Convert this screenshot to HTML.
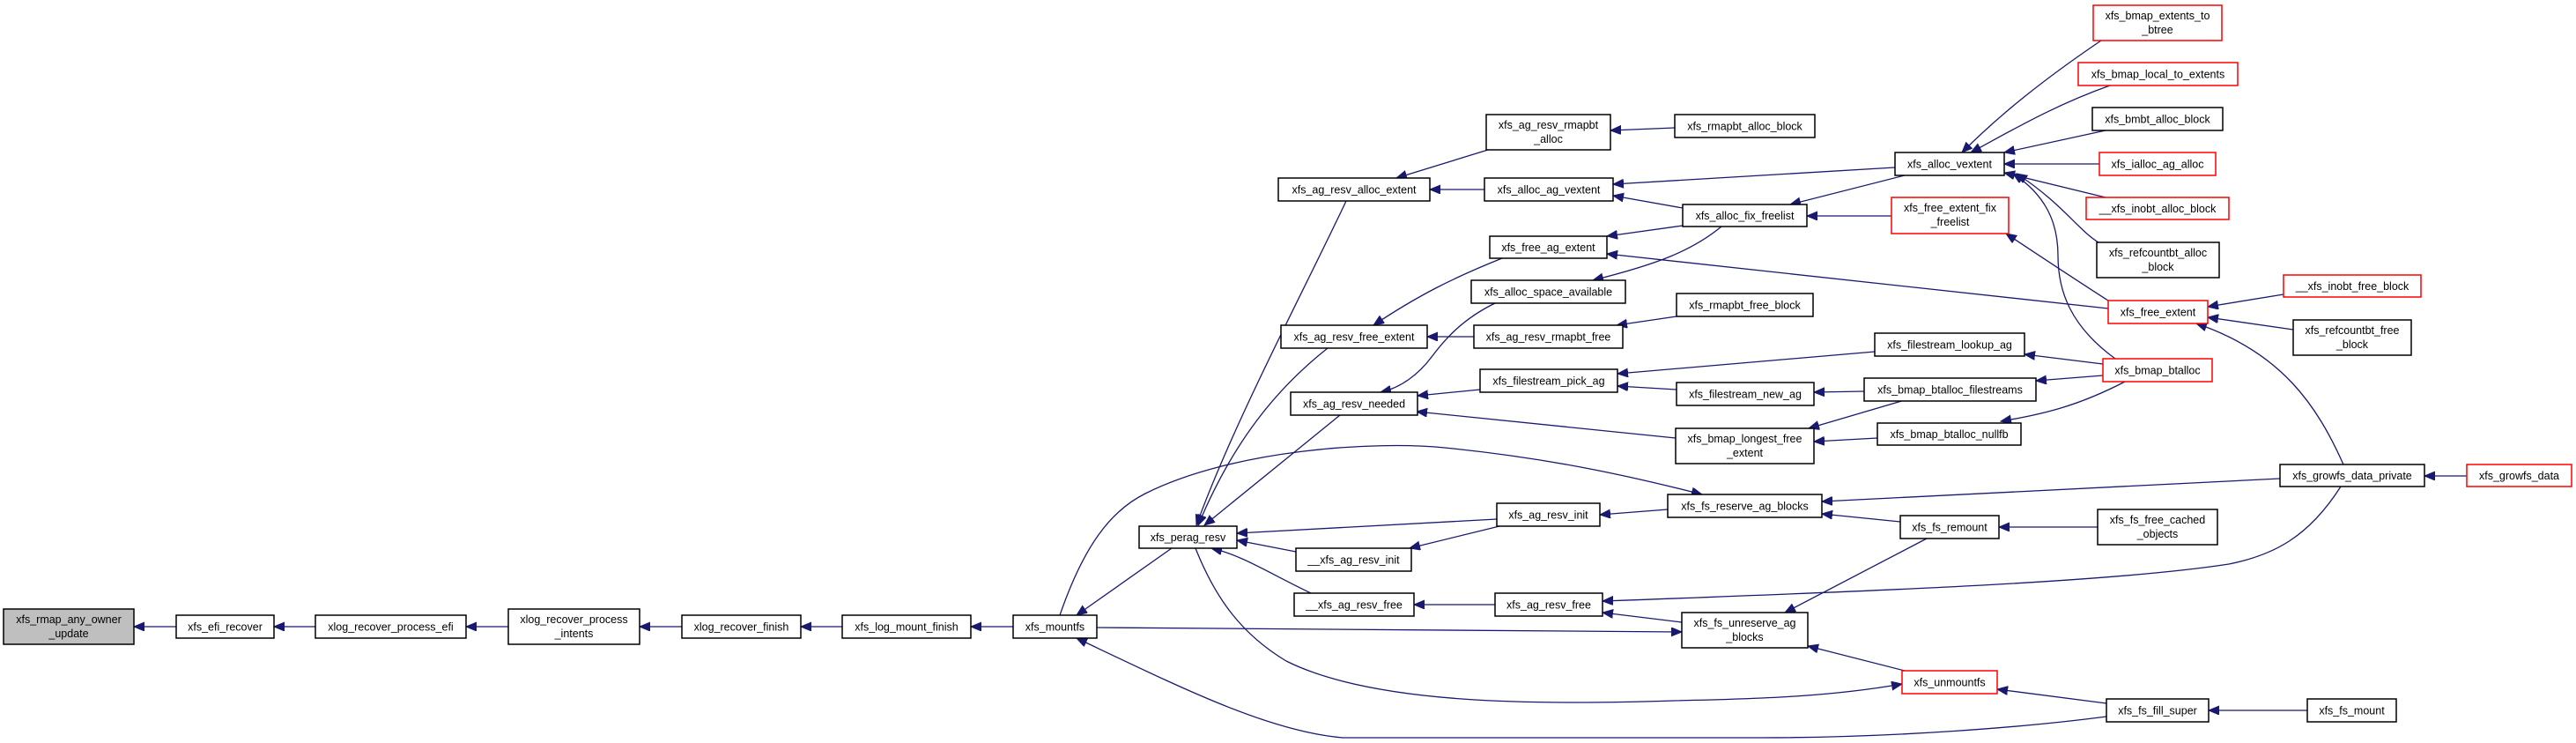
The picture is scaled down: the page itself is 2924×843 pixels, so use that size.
<!DOCTYPE html>
<html><head><meta charset="utf-8"><style>
html,body{margin:0;padding:0;background:#fff;}
svg{display:block;}
text{font-family:"Liberation Sans",sans-serif;font-size:12.5px;fill:#000;text-anchor:middle;}
rect{fill:#fff;stroke:#000;stroke-width:1.5;}
rect.r{stroke:#ff0000;}
rect.g{fill:#bfbfbf;}
path.e{fill:none;stroke:#191970;stroke-width:1.3;marker-end:url(#a);}
</style></head><body>
<svg width="2924" height="843" viewBox="0 0 2924 843" xmlns="http://www.w3.org/2000/svg">
<defs><marker id="a" markerUnits="userSpaceOnUse" markerWidth="13" markerHeight="11" refX="12" refY="5" orient="auto"><path d="M0,0 L12,5 L0,10 z" fill="#191970" stroke="#191970"/></marker></defs>
<!-- edges -->
<path class="e" d="M200,711 L152,711"/>
<path class="e" d="M358,711 L311,711"/>
<path class="e" d="M577,711 L529,711"/>
<path class="e" d="M774,711 L726,711"/>
<path class="e" d="M956,711 L909,711"/>
<path class="e" d="M1150,711 L1102,711"/>
<path class="e" d="M1330,622 L1222,698"/>
<path class="e" d="M1245,712 L1909,717"/>
<path class="e" d="M1203,698 C1230,620 1260,580 1300,560 C1400,510 1560,500 1640,508 C1760,520 1850,540 1932,561"/>
<path class="e" d="M2391,813 C2300,825 2150,837 2000,837 L1524,837 C1440,830 1340,780 1222,724"/>
<path class="e" d="M1357,622 C1380,680 1410,720 1460,750 C1560,800 1750,800 1900,795 C2000,793 2080,790 2159,776"/>
<path class="e" d="M1699,589 L1404,605"/>
<path class="e" d="M1471,626 L1404,613"/>
<path class="e" d="M1702,597 L1600,622"/>
<path class="e" d="M1488,673 C1440,650 1410,630 1375,622"/>
<path class="e" d="M1697,686 L1605,686"/>
<path class="e" d="M1893,578 L1816,584"/>
<path class="e" d="M1909,706 L1819,695"/>
<path class="e" d="M2657,552 C2620,610 2580,630 2530,640 C2400,660 2150,670 1819,682"/>
<path class="e" d="M2187,611 L2026,695"/>
<path class="e" d="M2162,761 L2052,733"/>
<path class="e" d="M2391,798 L2267,782"/>
<path class="e" d="M2619,806 L2507,806"/>
<path class="e" d="M2157,592 L2068,583"/>
<path class="e" d="M2588,543 L2068,569"/>
<path class="e" d="M2381,598 L2269,598"/>
<path class="e" d="M2800,540 L2752,540"/>
<path class="e" d="M2660,527 C2630,460 2590,400 2493,367"/>
<path class="e" d="M2592,334 L2506,348"/>
<path class="e" d="M2603,374 L2506,360"/>
<path class="e" d="M2116,444 L2059,445"/>
<path class="e" d="M2162,454 L2053,486"/>
<path class="e" d="M2131,497 L2059,501"/>
<path class="e" d="M2412,433 C2360,460 2320,470 2271,478"/>
<path class="e" d="M2387,426 L2311,432"/>
<path class="e" d="M2387,413 L2298,402"/>
<path class="e" d="M2128,399 L1836,424"/>
<path class="e" d="M1903,442 L1836,438"/>
<path class="e" d="M1680,442 L1609,449"/>
<path class="e" d="M1902,497 L1608,467"/>
<path class="e" d="M1521,471 L1367,596"/>
<path class="e" d="M1528,228 C1480,330 1400,480 1358,596"/>
<path class="e" d="M1507,395 C1450,440 1400,500 1360,596"/>
<path class="e" d="M1689,170 L1585,202"/>
<path class="e" d="M1685,215 L1623,215"/>
<path class="e" d="M1901,145 L1828,148"/>
<path class="e" d="M2151,190 L1831,209"/>
<path class="e" d="M1910,236 L1831,222"/>
<path class="e" d="M2162,199 L2032,232"/>
<path class="e" d="M2147,245 L2051,245"/>
<path class="e" d="M1910,256 L1824,268"/>
<path class="e" d="M1954,257 C1920,285 1880,300 1808,318"/>
<path class="e" d="M2393,350 L1824,288"/>
<path class="e" d="M1705,293 C1650,315 1610,335 1559,369"/>
<path class="e" d="M1697,344 C1660,362 1640,385 1625,405 C1610,425 1590,440 1567,445"/>
<path class="e" d="M1673,382 L1620,382"/>
<path class="e" d="M1903,359 L1835,369"/>
<path class="e" d="M2385,46 C2320,90 2270,130 2227,173"/>
<path class="e" d="M2395,97 C2330,120 2280,150 2237,173"/>
<path class="e" d="M2390,148 L2275,173"/>
<path class="e" d="M2383,186 L2275,186"/>
<path class="e" d="M2390,224 L2275,196"/>
<path class="e" d="M2382,275 C2360,262 2340,230 2289,197"/>
<path class="e" d="M2401,407 C2350,370 2336,330 2336,290 C2336,250 2320,220 2285,197"/>
<path class="e" d="M2393,341 C2360,320 2330,300 2277,265"/>
<!-- nodes -->
<rect class="g" x="4" y="691" width="148" height="40"/><text x="78" y="707">xfs_rmap_any_owner</text><text x="78" y="723">_update</text>
<rect x="200" y="698" width="111" height="26"/><text x="255.5" y="715.5">xfs_efi_recover</text>
<rect x="358" y="698" width="171" height="26"/><text x="443.5" y="715.5">xlog_recover_process_efi</text>
<rect x="577" y="691" width="149" height="40"/><text x="651.5" y="707">xlog_recover_process</text><text x="651.5" y="723">_intents</text>
<rect x="774" y="698" width="135" height="26"/><text x="841.5" y="715.5">xlog_recover_finish</text>
<rect x="956" y="698" width="146" height="26"/><text x="1029" y="715.5">xfs_log_mount_finish</text>
<rect x="1150" y="698" width="95" height="26"/><text x="1197.5" y="715.5">xfs_mountfs</text>
<rect x="1293" y="597" width="111" height="25"/><text x="1348.5" y="614">xfs_perag_resv</text>
<rect x="1451" y="202" width="172" height="26"/><text x="1537" y="219.5">xfs_ag_resv_alloc_extent</text>
<rect x="1454" y="369" width="166" height="26"/><text x="1537" y="386.5">xfs_ag_resv_free_extent</text>
<rect x="1465" y="445" width="144" height="26"/><text x="1537" y="462.5">xfs_ag_resv_needed</text>
<rect x="1471" y="622" width="131" height="26"/><text x="1536.5" y="639.5">__xfs_ag_resv_init</text>
<rect x="1469" y="673" width="136" height="26"/><text x="1537" y="690.5">__xfs_ag_resv_free</text>
<rect x="1687" y="130" width="141" height="40"/><text x="1757.5" y="146">xfs_ag_resv_rmapbt</text><text x="1757.5" y="162">_alloc</text>
<rect x="1685" y="202" width="146" height="26"/><text x="1758" y="219.5">xfs_alloc_ag_vextent</text>
<rect x="1691" y="268" width="133" height="25"/><text x="1757.5" y="285">xfs_free_ag_extent</text>
<rect x="1670" y="318" width="175" height="26"/><text x="1757.5" y="335.5">xfs_alloc_space_available</text>
<rect x="1673" y="369" width="169" height="26"/><text x="1757.5" y="386.5">xfs_ag_resv_rmapbt_free</text>
<rect x="1680" y="419" width="156" height="26"/><text x="1758" y="436.5">xfs_filestream_pick_ag</text>
<rect x="1699" y="571" width="117" height="26"/><text x="1757.5" y="588.5">xfs_ag_resv_init</text>
<rect x="1697" y="673" width="122" height="26"/><text x="1758" y="690.5">xfs_ag_resv_free</text>
<rect x="1901" y="130" width="159" height="26"/><text x="1980.5" y="147.5">xfs_rmapbt_alloc_block</text>
<rect x="1910" y="232" width="141" height="25"/><text x="1980.5" y="249">xfs_alloc_fix_freelist</text>
<rect x="1903" y="333" width="155" height="26"/><text x="1980.5" y="350.5">xfs_rmapbt_free_block</text>
<rect x="1903" y="434" width="156" height="26"/><text x="1981" y="451.5">xfs_filestream_new_ag</text>
<rect x="1902" y="486" width="157" height="40"/><text x="1980.5" y="502">xfs_bmap_longest_free</text><text x="1980.5" y="518">_extent</text>
<rect x="1893" y="561" width="175" height="26"/><text x="1980.5" y="578.5">xfs_fs_reserve_ag_blocks</text>
<rect x="1909" y="695" width="143" height="40"/><text x="1980.5" y="711">xfs_fs_unreserve_ag</text><text x="1980.5" y="727">_blocks</text>
<rect x="2151" y="173" width="124" height="26"/><text x="2213" y="190.5">xfs_alloc_vextent</text>
<rect class="r" x="2147" y="224" width="133" height="41"/><text x="2213.5" y="240">xfs_free_extent_fix</text><text x="2213.5" y="256">_freelist</text>
<rect x="2128" y="378" width="170" height="26"/><text x="2213" y="395.5">xfs_filestream_lookup_ag</text>
<rect x="2116" y="429" width="195" height="26"/><text x="2213.5" y="446.5">xfs_bmap_btalloc_filestreams</text>
<rect x="2131" y="480" width="163" height="25"/><text x="2212.5" y="497">xfs_bmap_btalloc_nullfb</text>
<rect x="2157" y="585" width="112" height="26"/><text x="2213" y="602.5">xfs_fs_remount</text>
<rect class="r" x="2159" y="761" width="108" height="26"/><text x="2213" y="778.5">xfs_unmountfs</text>
<rect class="r" x="2376" y="6" width="146" height="40"/><text x="2449" y="22">xfs_bmap_extents_to</text><text x="2449" y="38">_btree</text>
<rect class="r" x="2359" y="71" width="181" height="26"/><text x="2449.5" y="88.5">xfs_bmap_local_to_extents</text>
<rect x="2375" y="122" width="148" height="26"/><text x="2449" y="139.5">xfs_bmbt_alloc_block</text>
<rect class="r" x="2383" y="173" width="132" height="26"/><text x="2449" y="190.5">xfs_ialloc_ag_alloc</text>
<rect class="r" x="2368" y="224" width="162" height="25"/><text x="2449" y="241">__xfs_inobt_alloc_block</text>
<rect x="2380" y="275" width="139" height="40"/><text x="2449.5" y="291">xfs_refcountbt_alloc</text><text x="2449.5" y="307">_block</text>
<rect class="r" x="2393" y="341" width="113" height="26"/><text x="2449.5" y="358.5">xfs_free_extent</text>
<rect class="r" x="2387" y="407" width="124" height="26"/><text x="2449" y="424.5">xfs_bmap_btalloc</text>
<rect x="2381" y="578" width="136" height="40"/><text x="2449" y="594">xfs_fs_free_cached</text><text x="2449" y="610">_objects</text>
<rect x="2391" y="793" width="116" height="26"/><text x="2449" y="810.5">xfs_fs_fill_super</text>
<rect class="r" x="2592" y="312" width="156" height="25"/><text x="2670" y="329">__xfs_inobt_free_block</text>
<rect x="2603" y="363" width="134" height="40"/><text x="2670" y="379">xfs_refcountbt_free</text><text x="2670" y="395">_block</text>
<rect x="2588" y="527" width="164" height="25"/><text x="2670" y="544">xfs_growfs_data_private</text>
<rect class="r" x="2800" y="527" width="119" height="25"/><text x="2859.5" y="544">xfs_growfs_data</text>
<rect x="2619" y="793" width="101" height="26"/><text x="2669.5" y="810.5">xfs_fs_mount</text>
</svg>
</body></html>
